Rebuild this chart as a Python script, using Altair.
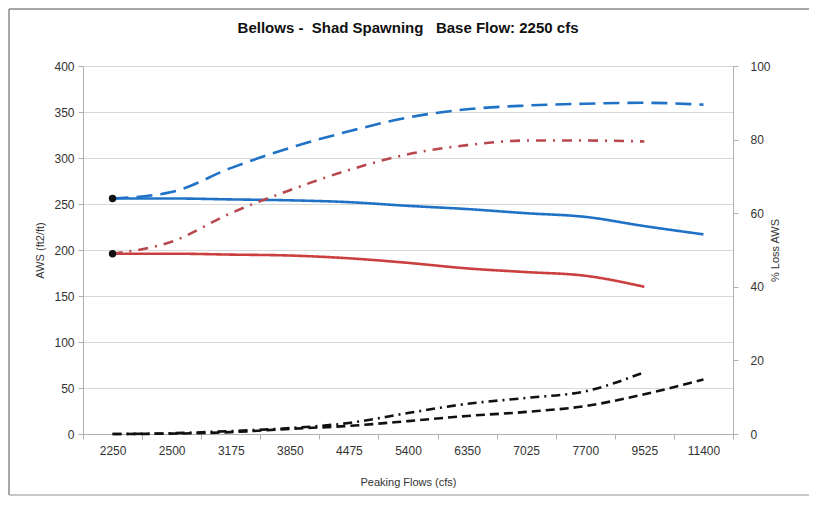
import altair as alt
import pandas as pd

categories = ["2250", "2500", "3175", "3850", "4475", "5400", "6350", "7025", "7700", "9525", "11400"]

aws_blue = [256, 256, 255, 254, 252, 248, 244.5, 240, 236, 226, 217]
aws_red = [196, 196, 195, 194, 191, 186, 180, 176, 172, 160, None]
aws_blue_dash = [256, 263, 289, 311, 329, 344, 353, 357, 359, 360, 358]
aws_red_dashdot = [196, 209, 240, 265, 287, 304, 314, 319, 319, 318, None]
loss_dash = [0, 0.1, 0.5, 1.4, 2.2, 3.5, 4.9, 6.0, 7.6, 10.8, 14.8]
loss_dashdot = [0, 0.2, 0.8, 1.6, 3.0, 5.7, 8.2, 9.8, 11.6, 16.8, None]

FONT = "Liberation Sans Narrow, Arial Narrow, Liberation Sans, Arial"
NB = "\u00a0"
TITLE = "Bellows -" + NB * 2 + "Shad Spawning" + NB * 3 + "Base Flow: 2250 cfs"

left_series = {
    "AWS A": aws_blue,
    "AWS B": aws_red,
    "AWS A peak": aws_blue_dash,
    "AWS B peak": aws_red_dashdot,
}
right_series = {
    "Loss A": loss_dash,
    "Loss B": loss_dashdot,
}

def long(d):
    rows = []
    for name, vals in d.items():
        for i, (c, v) in enumerate(zip(categories, vals)):
            if v is not None:
                rows.append({"flow": c, "series": name, "value": v, "order": i})
    return pd.DataFrame(rows)

left_df = long(left_series)
right_df = long(right_series)
start_df = pd.DataFrame({
    "flow": [categories[0], categories[0]],
    "value": [aws_blue[0], aws_red[0]],
    "series": ["AWS A", "AWS B"],
})

x_enc = alt.X("flow:N", sort=categories, title="Peaking Flows (cfs)",
              scale=alt.Scale(domain=categories),
              axis=alt.Axis(labelAngle=0, tickBand="extent", domainColor="#b0b0b0",
                            tickColor="#b0b0b0", tickSize=5, labelFontSize=12,
                            labelColor="#333333", titleFontSize=11, titleFontWeight="normal",
                            titleColor="#333333", labelPadding=6, titlePadding=20,
                            labelFont=FONT, titleFont=FONT, grid=False))

left_lines = alt.Chart(left_df).mark_line(strokeWidth=2.6, interpolate="monotone").encode(
    x=x_enc,
    y=alt.Y("value:Q", title="AWS (ft2/ft)",
            scale=alt.Scale(domain=[0, 400], nice=False),
            axis=alt.Axis(orient="left", values=list(range(0, 401, 50)), grid=True,
                          gridColor="#d9d9d9", domainColor="#b0b0b0", tickColor="#b0b0b0",
                          tickSize=5, labelFontSize=12, labelColor="#333333",
                          titleFontSize=11, titleFontWeight="normal", titleColor="#333333",
                          labelFont=FONT, titleFont=FONT, titlePadding=8, labelPadding=4)),
    color=alt.Color("series:N", legend=None,
                    scale=alt.Scale(domain=list(left_series.keys()),
                                    range=["#1f72c6", "#cc3f3f", "#1f72c6", "#b8484e"])),
    strokeDash=alt.StrokeDash("series:N", legend=None,
                              scale=alt.Scale(domain=list(left_series.keys()),
                                              range=[[1, 0], [1, 0], [16, 8], [10, 7, 2, 7]])),
    order="order:Q",
)

start_pts = alt.Chart(start_df).mark_circle(size=55, opacity=1).encode(
    x=alt.X("flow:N", sort=categories, scale=alt.Scale(domain=categories)),
    y=alt.Y("value:Q", scale=alt.Scale(domain=[0, 400], nice=False)),
    color=alt.value("#111111"),
)

# decorative outer frame (rules in pixels relative to the plot area, kept inside the SVG)
frame_src = pd.DataFrame({"k": [0]})
def frame_rule(x, x2, y, y2, color):
    return alt.Chart(frame_src).mark_rule(color=color, strokeWidth=1.5).encode(
        x=alt.value(x), x2=alt.value(x2), y=alt.value(y), y2=alt.value(y2)
    )
frame = alt.layer(
    frame_rule(-74, 726, -57, -57, "#8a8a8a"),
    frame_rule(-74, -74, -57, 429, "#8a8a8a"),
    frame_rule(-74, 726, 429, 429, "#b5b5b5"),
)

left_layer = alt.layer(left_lines, start_pts)

right_lines = alt.Chart(right_df).mark_line(strokeWidth=2.6, interpolate="monotone", color="#111111").encode(
    x=alt.X("flow:N", sort=categories, scale=alt.Scale(domain=categories)),
    y=alt.Y("value:Q", title="% Loss AWS",
            scale=alt.Scale(domain=[0, 100], nice=False),
            axis=alt.Axis(orient="right", values=list(range(0, 101, 20)), grid=False,
                          domainColor="#b0b0b0", tickColor="#b0b0b0", tickSize=5,
                          labelFontSize=12, labelColor="#333333", titleFontSize=11,
                          titleFontWeight="normal", titleColor="#333333", titleAngle=270,
                          labelFont=FONT, titleFont=FONT, titlePadding=10, labelPadding=12)),
    strokeDash=alt.StrokeDash("series:N", legend=None,
                              scale=alt.Scale(domain=list(right_series.keys()),
                                              range=[[9, 5], [9, 5, 2, 5]])),
    order="order:Q",
)

chart = alt.layer(frame, left_layer, right_lines).resolve_scale(
    y="independent", strokeDash="independent", color="independent"
).properties(
    width=650,
    height=368,
    autosize=alt.AutoSizeParams(type="none"),
    padding={"left": 75, "top": 58, "right": 77, "bottom": 63},
    title=alt.Title(TITLE,
                    font=FONT, fontSize=15, fontWeight="bold", color="#111111",
                    anchor="middle", offset=-28),
).configure_view(stroke=None).configure(background="white")

chart.save("out.html", embed_options={"renderer": "svg", "actions": False})
